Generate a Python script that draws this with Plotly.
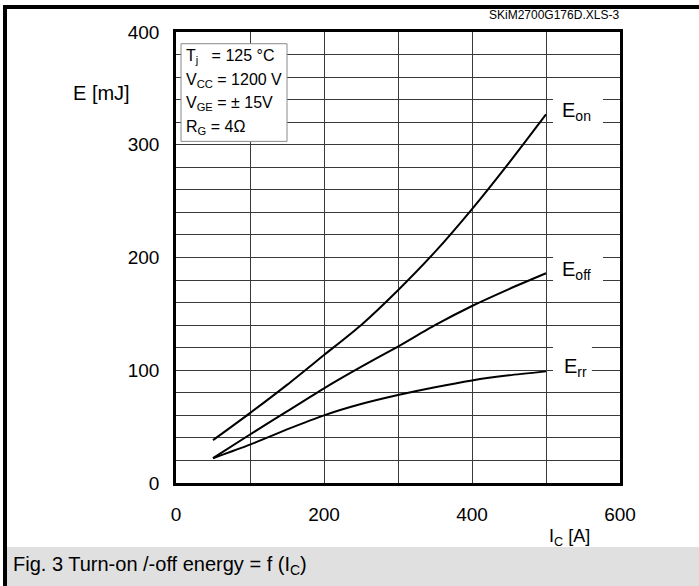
import plotly.graph_objects as go

# ---- data ----
ic = [50, 100, 150, 200, 250, 300, 350, 400, 450, 500]
e_on = [38, 62, 87, 113.5, 140, 171, 205, 243, 284, 327]
e_off = [22, 43, 63.5, 84, 103, 121, 140, 157, 172, 186]
e_rr = [22, 34, 47.5, 60, 70, 78, 85, 91, 95.5, 99]

x_tickvals = [0, 200, 400, 600]
x_minorvals = [100, 300, 500]
y_tickvals = [0, 100, 200, 300, 400]
y_minorvals = [v for v in range(0, 401, 20) if v % 100 != 0]

series = [("E<sub>on</sub>", e_on), ("E<sub>off</sub>", e_off), ("E<sub>rr</sub>", e_rr)]

FONT = "Liberation Sans, Arial, sans-serif"

fig = go.Figure()
for name, vals in series:
    fig.add_trace(go.Scatter(x=ic, y=vals, mode="lines", name=name,
                             line=dict(color="black", width=2, shape="spline", smoothing=0.6),
                             hoverinfo="skip"))

W, H = 699, 586
L, R, T, B = 176, 79, 32, 103
pw, ph = W - L - R, H - T - B


def px(x):
    return (x - L) / pw


def py(y):
    return (H - B - y) / ph


shapes = []
# caption band
shapes.append(dict(type="rect", xref="paper", yref="paper", x0=px(7), x1=px(W), y0=py(547), y1=py(H),
                   fillcolor="#e0e0e0", line=dict(width=0), layer="below"))
# outer frame lines (top and left)
shapes.append(dict(type="line", xref="paper", yref="paper", x0=px(3), x1=px(W), y0=py(7), y1=py(7),
                   line=dict(color="black", width=4)))
shapes.append(dict(type="line", xref="paper", yref="paper", x0=px(5), x1=px(5), y0=py(5), y1=py(H),
                   line=dict(color="black", width=4)))
# conditions box
shapes.append(dict(type="rect", xref="x", yref="y", x0=6.8, x1=150, y0=303, y1=389.6,
                   fillcolor="white", line=dict(color="#8a8a8a", width=1), layer="between"))
# white backgrounds behind curve labels
for (x0, x1, y0, y1) in [(509.5, 577, 317, 343), (509.5, 577, 177, 203), (509.5, 562, 97, 123)]:
    shapes.append(dict(type="rect", xref="x", yref="y", x0=x0, x1=x1, y0=y0, y1=y1,
                       fillcolor="white", line=dict(width=0), layer="between"))

ann = []
cond_lines = ["T<sub>j</sub>\u00a0\u00a0\u00a0= 125 \u00b0C", "V<sub>CC</sub> = 1200 V",
              "V<sub>GE</sub> = \u00b1 15V", "R<sub>G</sub> = 4\u03a9"]
cond_y = [53.8, 77, 100, 124]
for t, yy in zip(cond_lines, cond_y):
    ann.append(dict(text=t, xref="paper", yref="paper", x=px(184), y=py(yy + 3), xanchor="left",
                    yanchor="middle", showarrow=False, font=dict(size=16, family=FONT, color="black")))

# curve labels
for (name, _), (lx, ly) in zip(series, [(560.7, 107.8), (560.7, 266.5), (563, 364)]):
    ann.append(dict(text=name, xref="paper", yref="paper", x=px(lx - 1), y=py(ly + 3.5), xanchor="left",
                    yanchor="middle", showarrow=False, font=dict(size=20, family=FONT, color="black")))

ann.append(dict(text="E [mJ]", xref="paper", yref="paper", x=px(70.7), y=py(92.5), xanchor="left",
                yanchor="middle", showarrow=False, font=dict(size=20, family=FONT, color="black")))
ann.append(dict(text="I<sub>C</sub> [A]", xref="paper", yref="paper", x=px(547), y=py(534.5 + 3),
                xanchor="left", yanchor="middle", showarrow=False,
                font=dict(size=18, family=FONT, color="black")))
ann.append(dict(text="SKiM2700G176D.XLS-3", xref="paper", yref="paper", x=px(621), y=py(15.5),
                xanchor="right", yanchor="middle", showarrow=False,
                font=dict(size=12, family=FONT, color="black")))
ann.append(dict(text="Fig. 3 Turn-on /-off energy = f (I<sub>C</sub>)", xref="paper", yref="paper",
                x=px(10.5), y=py(562 + 3), xanchor="left", yanchor="middle", showarrow=False,
                font=dict(size=20, family=FONT, color="black")))

axis_common = dict(showgrid=True, gridcolor="#3a3a3a", gridwidth=1, showline=True, linecolor="black",
                   linewidth=2.5, mirror=True, ticks="", zeroline=False, fixedrange=True,
                   tickfont=dict(size=19, family=FONT, color="black"))

fig.update_layout(
    width=W, height=H,
    margin=dict(l=L, r=R, t=T, b=B, pad=0, autoexpand=False),
    paper_bgcolor="white", plot_bgcolor="white",
    showlegend=False,
    font=dict(family=FONT, color="black"),
    xaxis=dict(range=[0, 600], tickmode="array", tickvals=x_tickvals, ticklabelstandoff=12,
               minor=dict(tickmode="array", tickvals=x_minorvals, showgrid=True, gridcolor="#3a3a3a",
                          gridwidth=1, ticks=""),
               **axis_common),
    yaxis=dict(range=[0, 400], tickmode="array", tickvals=y_tickvals, ticklabelstandoff=10,
               minor=dict(tickmode="array", tickvals=y_minorvals, showgrid=True, gridcolor="#3a3a3a",
                          gridwidth=1, ticks=""),
               **axis_common),
    shapes=shapes,
    annotations=ann,
)

fig.write_html("out.html", config={"displayModeBar": False},
               post_script="document.body.style.margin='0';document.body.style.overflow='hidden';")
